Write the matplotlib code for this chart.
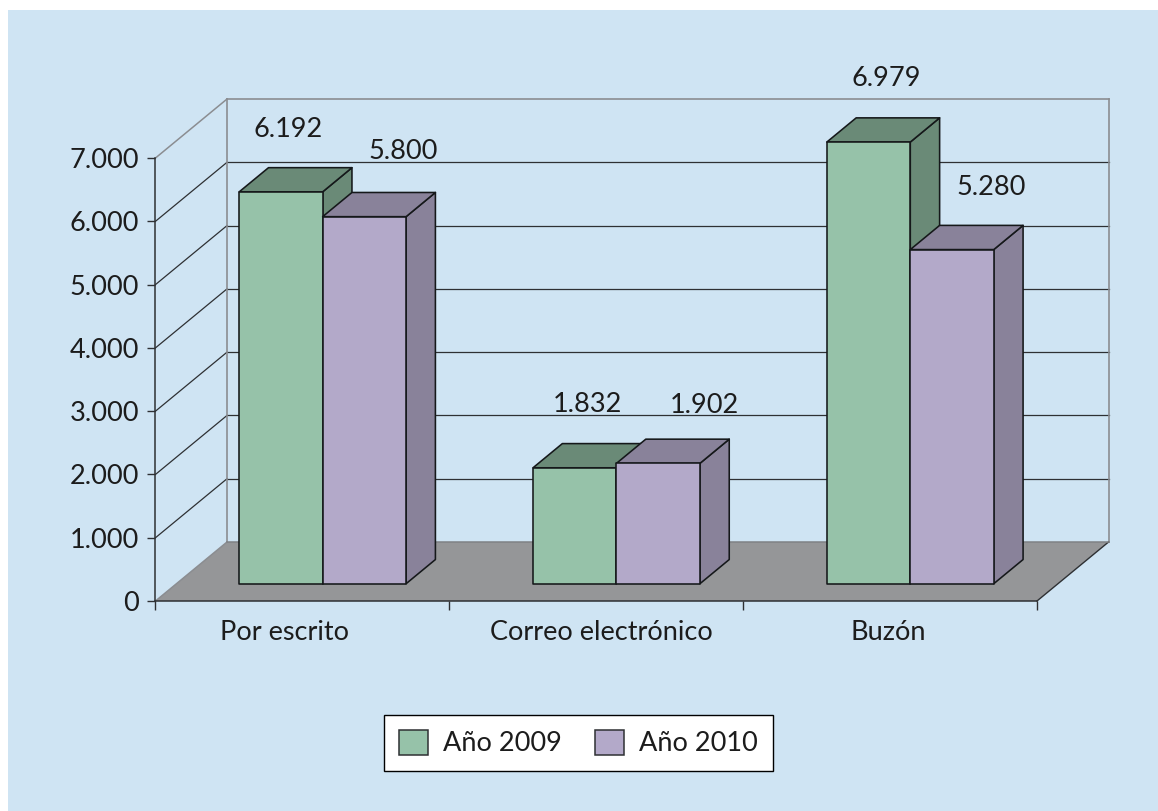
'''
3D-look grouped bars: claims by channel, 2009 vs 2010.
'''

import matplotlib
matplotlib.use("Agg")
import matplotlib.pyplot as plt
from matplotlib.patches import Polygon, Rectangle
from matplotlib.transforms import ScaledTranslation

categories = ["Por escrito", "Correo electrónico", "Buzón"]
years = ["Año 2009", "Año 2010"]
values_2009 = [6192, 1832, 6979]
values_2010 = [5800, 1902, 5280]
y_ticks = [0, 1000, 2000, 3000, 4000, 5000, 6000, 7000]
y_tick_labels = ["0", "1.000", "2.000", "3.000", "4.000", "5.000", "6.000", "7.000"]
bar_labels_2009 = ["6.192", "1.832", "6.979"]
bar_labels_2010 = ["5.800", "1.902", "5.280"]

W, H = 1158, 811
BG = "#CFE4F3"
FLOOR = "#959698"
WALL = "#8B8D91"
DARK = "#2E3033"
GREEN, GREEN_D = "#96C2A9", "#6A8A77"
PURPLE, PURPLE_D = "#B3A9C9", "#89829A"
FONT = 19.5

# oblique offset of the whole chart depth, in data units
DEPTH_X = 0.2434
DEPTH_Y = 932
BAR_START = 0.293   # fraction of the depth where the bars begin
BAR_DEPTH = 0.41
BAR_W = 0.284
GAP = 0.2135

plt.rcParams["font.family"] = ["Lato", "DejaVu Sans"]
plt.rcParams["text.color"] = "#1c1c1c"

fig = plt.figure(figsize=(W / 100, H / 100), dpi=100, facecolor="white")
fig.patches.append(Rectangle((8 / W, 0), 1 - 8 / W, (H - 10) / H, transform=fig.transFigure,
                             facecolor=BG, edgecolor="none", zorder=-5))

ax = fig.add_axes([155.5 / W, (H - 601) / H, (1037 - 155.5) / W, (601 - 158) / H])
ax.set_xlim(0, 3)
ax.set_ylim(0, 7000)
ax.patch.set_visible(False)
for side in ["top", "right"]:
    ax.spines[side].set_visible(False)
for side in ["left", "bottom"]:
    ax.spines[side].set_color(DARK)
    ax.spines[side].set_linewidth(1.1)

# floor
ax.add_patch(Polygon([(0, 0), (3, 0), (3 + DEPTH_X, DEPTH_Y), (DEPTH_X, DEPTH_Y)],
                     facecolor=FLOOR, edgecolor="none", clip_on=False, zorder=1))
ax.plot([3, 3 + DEPTH_X], [0, DEPTH_Y], color=DARK, lw=1, clip_on=False, zorder=1.2)
ax.plot([0, DEPTH_X], [0, DEPTH_Y], color=WALL, lw=1.1, clip_on=False, zorder=1.2)
ax.plot([DEPTH_X, 3 + DEPTH_X], [DEPTH_Y, DEPTH_Y], color="#7F8185", lw=1.1, clip_on=False, zorder=1.2)

# walls and gridlines
for t in y_ticks[1:]:
    top = t == y_ticks[-1]
    col = WALL if top else DARK
    ax.plot([0, DEPTH_X], [t, t + DEPTH_Y], color=col, lw=1.1 if top else 0.9, clip_on=False, zorder=1.1)
    ax.plot([DEPTH_X, 3 + DEPTH_X], [t + DEPTH_Y] * 2, color=col, lw=1.2 if top else 0.9, clip_on=False, zorder=1.1)
for x in [DEPTH_X, 3 + DEPTH_X]:
    ax.plot([x, x], [DEPTH_Y, y_ticks[-1] + DEPTH_Y], color=WALL, lw=1.2, clip_on=False, zorder=1.1)


def cuboid(x0, value, front, side, z):
    ox = BAR_START * DEPTH_X
    oy = BAR_START * DEPTH_Y
    dx = BAR_DEPTH * DEPTH_X
    dy = BAR_DEPTH * DEPTH_Y
    x0 = x0 + ox
    x1 = x0 + BAR_W
    y1 = value + oy
    faces = [
        ([(x1, oy), (x1 + dx, oy + dy), (x1 + dx, y1 + dy), (x1, y1)], side),
        ([(x0, y1), (x1, y1), (x1 + dx, y1 + dy), (x0 + dx, y1 + dy)], side),
        ([(x0, oy), (x1, oy), (x1, y1), (x0, y1)], front),
    ]
    for pts, col in faces:
        ax.add_patch(Polygon(pts, facecolor=col, edgecolor="#15181a", lw=1.15,
                             joinstyle="round", clip_on=False, zorder=z))


# label nudges from the bar's front-top centre, in pixels
nudge_2009 = [(7, 62), (13, 63), (18, 64)]
nudge_2010 = [(39, 65), (46, 58), (39, 62)]

for i in range(len(categories)):
    x0 = i + GAP
    cuboid(x0, values_2009[i], GREEN, GREEN_D, 2 + i)
    cuboid(x0 + BAR_W, values_2010[i], PURPLE, PURPLE_D, 2.5 + i)
    ox = BAR_START * DEPTH_X
    oy = BAR_START * DEPTH_Y
    ax.annotate(bar_labels_2009[i], (x0 + ox + BAR_W / 2, values_2009[i] + oy), xytext=nudge_2009[i],
                textcoords="offset pixels", ha="center", va="center", fontsize=FONT, annotation_clip=False, zorder=10)
    ax.annotate(bar_labels_2010[i], (x0 + ox + BAR_W * 1.5, values_2010[i] + oy), xytext=nudge_2010[i],
                textcoords="offset pixels", ha="center", va="center", fontsize=FONT, annotation_clip=False, zorder=10)

# axes ticks
ax.set_yticks(y_ticks)
ax.set_yticklabels(y_tick_labels)
ax.tick_params(axis="y", length=5.8, width=1, color=DARK, pad=6, labelsize=FONT, labelcolor="#1c1c1c")
ax.set_xticks([0, 1, 2, 3])
ax.set_xticklabels([])
ax.tick_params(axis="x", which="major", length=6.5, width=1, color=DARK)
ax.set_xticks([0.5, 1.5, 2.5], minor=True)
ax.set_xticklabels(categories, minor=True)
ax.tick_params(axis="x", which="minor", length=0, pad=14, labelsize=FONT, labelcolor="#1c1c1c")

# category labels are not centred under their group in the original
label_shift = [-18, 5, -2]
for lab, px in zip(ax.get_xticklabels(minor=True), label_shift):
    lab.set_transform(lab.get_transform() + ScaledTranslation(px / 100, 0, fig.dpi_scale_trans))

handles = [Rectangle((0, 0), 1, 1, facecolor=GREEN, edgecolor=DARK, lw=1.1),
           Rectangle((0, 0), 1, 1, facecolor=PURPLE, edgecolor=DARK, lw=1.1)]
leg = fig.legend(handles, years, ncol=2, loc="center", bbox_to_anchor=(578.5 / W, (H - 743) / H),
                 fontsize=FONT, frameon=True, fancybox=False, framealpha=1, facecolor="white",
                 edgecolor="black", handlelength=1.07, handleheight=1.07, handletextpad=0.55,
                 columnspacing=1.22, borderpad=0.55, borderaxespad=0)
leg.get_frame().set_linewidth(1.0)

fig.savefig("out.png", dpi=100, facecolor=fig.get_facecolor())
